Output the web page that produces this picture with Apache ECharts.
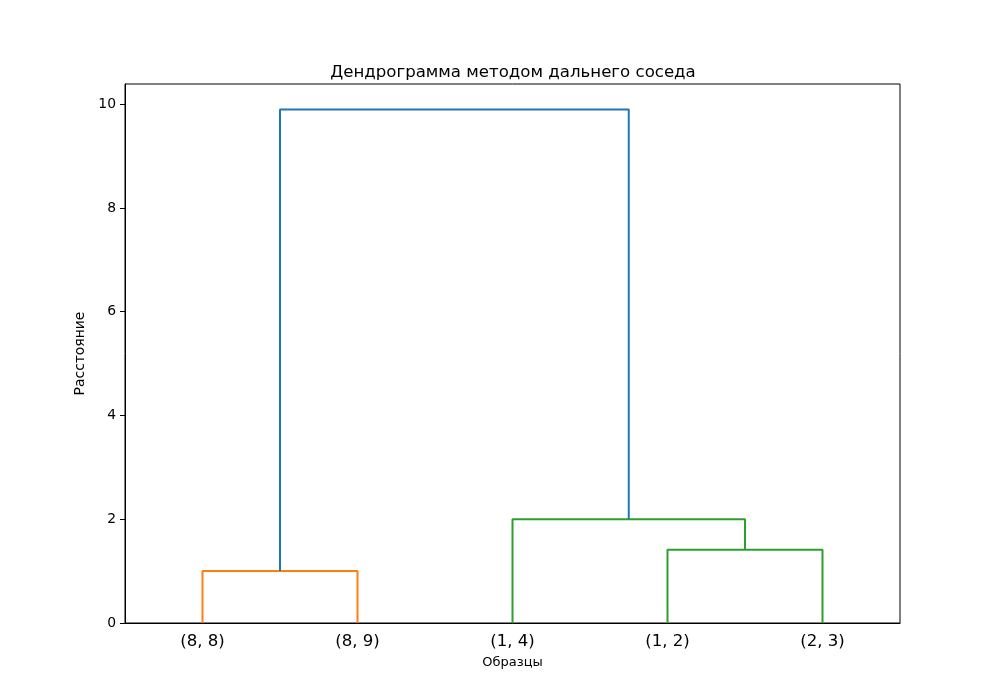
<!DOCTYPE html>
<html>
<head>
<meta charset="utf-8">
<script src="https://cdn.jsdelivr.net/npm/echarts@6/dist/echarts.min.js"></script>
<style>
  html, body { margin: 0; padding: 0; background: #fff; }
  #chart { width: 1000px; height: 700px; }
</style>
</head>
<body>
<div id="chart"></div>
<script>
// leaves in dendrogram order, placed at 5, 15, 25, ...
const leafLabels = ['(8, 8)', '(8, 9)', '(1, 4)', '(1, 2)', '(2, 3)'];
const leafPos = [5, 15, 25, 35, 45];

// each link is a U shape: 4 x coords, 4 heights
const linkX = [
  [5, 5, 15, 15],
  [35, 35, 45, 45],
  [25, 25, 40, 40],
  [10, 10, 32.5, 32.5]
];
const linkY = [
  [0, 1.0, 1.0, 0],
  [0, 1.414, 1.414, 0],
  [0, 2.0, 2.0, 1.414],
  [1.0, 9.899, 9.899, 2.0]
];
const linkColors = ['#ff7f0e', '#2ca02c', '#2ca02c', '#1f77b4'];

const yTicks = [0, 2, 4, 6, 8, 10];

const font = 'DejaVu Sans';
const chart = echarts.init(document.getElementById('chart'));

const series = linkX.map((xs, i) => ({
  type: 'line',
  data: xs.map((x, j) => [x, linkY[i][j]]),
  symbol: 'none',
  animation: false,
  lineStyle: { color: linkColors[i], width: 2 }
}));

chart.setOption({
  backgroundColor: '#fff',
  title: {
    text: 'Дендрограмма методом дальнего соседа',
    left: 508,
    textAlign: 'center',
    top: 59,
    textStyle: { fontFamily: font, fontSize: 16.6, fontWeight: 'normal', color: '#000' }
  },
  grid: {
    left: 125, right: 100, top: 84, bottom: 77,
    show: true, borderColor: '#000', borderWidth: 1, backgroundColor: 'transparent'
  },
  xAxis: {
    type: 'value',
    min: 0,
    max: 50,
    name: 'Образцы',
    nameLocation: 'middle',
    nameGap: 33,
    nameTextStyle: { fontFamily: font, fontSize: 13, color: '#000' },
    splitLine: { show: false },
    axisLine: { show: true, onZero: false, lineStyle: { color: '#000', width: 1 } },
    axisTick: { show: false },
    axisLabel: {
      customValues: leafPos,
      formatter: v => leafLabels[leafPos.indexOf(v)] || '',
      fontFamily: font, fontSize: 16.6, color: '#000', margin: 10
    }
  },
  yAxis: {
    type: 'value',
    min: 0,
    max: 10.39,
    name: 'Расстояние',
    nameLocation: 'middle',
    nameGap: 34,
    nameTextStyle: { fontFamily: font, fontSize: 13.9, color: '#000' },
    splitLine: { show: false },
    axisLine: { show: true, lineStyle: { color: '#000', width: 1 } },
    axisTick: { show: true, length: 5, customValues: yTicks, lineStyle: { color: '#000' } },
    axisLabel: {
      customValues: yTicks,
      fontFamily: font, fontSize: 13.9, color: '#000', margin: 9
    }
  },
  series: series
});
</script>
</body>
</html>
